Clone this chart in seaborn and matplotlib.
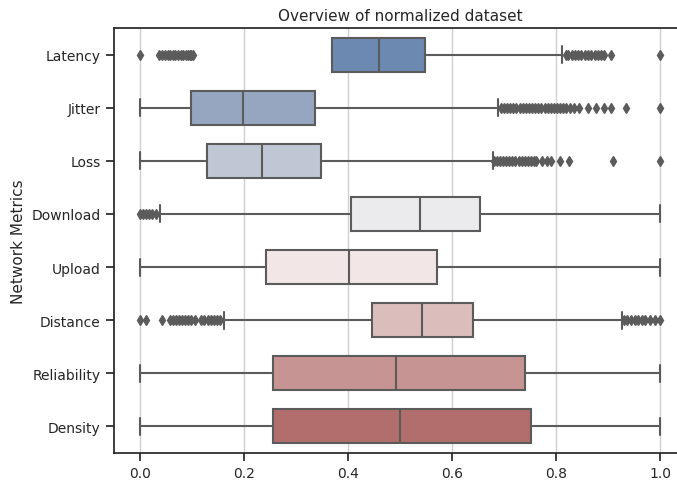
import numpy as np
import pandas as pd
import matplotlib
matplotlib.use("Agg")
import matplotlib.pyplot as plt
import seaborn as sns

metrics = ["Latency", "Jitter", "Loss", "Download", "Upload", "Distance", "Reliability", "Density"]
q1 = [0.370, 0.098, 0.129, 0.406, 0.243, 0.447, 0.256, 0.256]
median = [0.459, 0.199, 0.235, 0.538, 0.401, 0.543, 0.493, 0.500]
q3 = [0.549, 0.336, 0.349, 0.654, 0.571, 0.640, 0.740, 0.752]
whisker_low = [0.101, 0.0, 0.0, 0.038, 0.0, 0.162, 0.0, 0.0]
whisker_high = [0.812, 0.689, 0.678, 1.0, 1.0, 0.927, 1.0, 1.0]

outliers_latency = [0.0, 0.036, 0.042, 0.048, 0.053, 0.058, 0.063, 0.068, 0.073, 0.078,
                    0.083, 0.088, 0.093, 0.097, 0.099,
                    0.819, 0.824, 0.830, 0.836, 0.842, 0.848, 0.855, 0.862, 0.868,
                    0.875, 0.881, 0.887, 0.893, 0.906, 1.0]
outliers_jitter = [0.694, 0.700, 0.706, 0.712, 0.718, 0.724, 0.730, 0.736, 0.742, 0.748,
                   0.754, 0.760, 0.766, 0.772, 0.778, 0.784, 0.790, 0.796, 0.802, 0.808,
                   0.814, 0.820, 0.827, 0.834, 0.845, 0.862, 0.877, 0.893, 0.906, 0.934, 1.0]
outliers_loss = [0.681, 0.686, 0.692, 0.698, 0.704, 0.710, 0.716, 0.722, 0.728, 0.734,
                 0.740, 0.746, 0.752, 0.758, 0.762, 0.773, 0.783, 0.790, 0.807, 0.825,
                 0.910, 1.0]
outliers_download = [0.0, 0.005, 0.012, 0.018, 0.024, 0.030]
outliers_upload = []
outliers_distance = [0.0, 0.012, 0.042, 0.057, 0.063, 0.069, 0.075, 0.081, 0.087, 0.093,
                     0.099, 0.105, 0.118, 0.124, 0.130, 0.136, 0.142, 0.148, 0.154,
                     0.931, 0.937, 0.944, 0.951, 0.958, 0.965, 0.972, 0.980, 0.990, 1.0]
outliers_reliability = []
outliers_density = []
outliers = [outliers_latency, outliers_jitter, outliers_loss, outliers_download,
            outliers_upload, outliers_distance, outliers_reliability, outliers_density]

# Build a sample per metric whose quartiles/whiskers equal the read values
K = 1000
rows = []
for i, m in enumerate(metrics):
    vals = ([whisker_low[i]] + [q1[i]] * K + [median[i]] * K + [q3[i]] * K
            + [whisker_high[i]] + list(outliers[i]))
    rows.extend((m, v) for v in vals)
df = pd.DataFrame(rows, columns=["metric", "value"])

sns.set_theme(style="ticks")
fig = plt.figure(figsize=(6.77, 4.81), dpi=100)
ax = fig.add_axes([114 / 677, 1 - 454 / 481, 572 / 677, (454 - 29) / 481])

line_gray = "#5b5b5b"
sns.boxplot(data=df, x="value", y="metric", hue="metric", order=metrics,
            palette="vlag", legend=False, width=0.64, ax=ax, linecolor=line_gray,
            linewidth=1.5,
            flierprops=dict(marker="d", markerfacecolor=line_gray, markeredgecolor=line_gray,
                            markersize=5))
ax.xaxis.grid(True, color="#d0d0d0", linewidth=1.0)
ax.set_axisbelow(True)
ax.set_xlim(-0.05, 1.05)
ax.set_xlabel("")
ax.set_ylabel("Network Metrics", fontsize=11)
ax.set_title("Overview of normalized dataset", fontsize=11)
ax.tick_params(labelsize=10)
fig.savefig("out.png", dpi=100)
